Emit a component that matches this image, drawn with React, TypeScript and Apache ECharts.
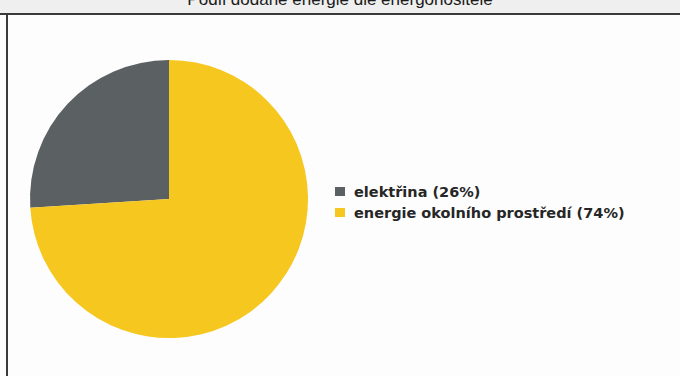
import React, { useEffect, useRef } from "react";
import * as echarts from "echarts";

const categories = ["elektřina (26%)", "energie okolního prostředí (74%)"];
const values = [26, 74];
const colors = ["#5b6062", "#f5c71f"];
const titleText = "Podíl dodané energie dle energonositele";

export default function App() {
  const ref = useRef<HTMLDivElement>(null);
  useEffect(() => {
    if (!ref.current) return;
    const chart = echarts.init(ref.current, null, { renderer: "svg" });
    chart.setOption({
      animation: false,
      backgroundColor: "#fdfdfd",
      graphic: [
        { type: "rect", shape: { x: 0, y: 0, width: 680, height: 13 }, style: { fill: "#efefef" }, z: 0 },
        { type: "line", shape: { x1: 0, y1: 14, x2: 680, y2: 14 }, style: { stroke: "#3a3a3a", lineWidth: 2 }, z: 1 },
        { type: "line", shape: { x1: 7, y1: 14, x2: 7, y2: 376 }, style: { stroke: "#3a3a3a", lineWidth: 2 }, z: 1 },
        {
          type: "text",
          x: 340,
          y: 8,
          style: {
            text: titleText,
            fill: "#1a1a1a",
            font: "17px 'Liberation Sans', Arial, sans-serif",
            textAlign: "center",
            textVerticalAlign: "bottom",
          },
          z: 2,
        },
      ],
      legend: {
        orient: "vertical",
        left: 330,
        top: 179,
        itemWidth: 10,
        itemHeight: 9,
        itemGap: 6,
        icon: "rect",
        textStyle: {
          fontFamily: "DejaVu Sans",
          fontSize: 14.5,
          fontWeight: "bold",
          lineHeight: 15,
          color: "#262626",
          padding: [0, 0, 0, 4],
        },
        data: categories,
      },
      series: [
        {
          type: "pie",
          center: [169, 199],
          radius: 139,
          clockwise: false,
          startAngle: 90,
          label: { show: false },
          labelLine: { show: false },
          emphasis: { disabled: true },
          data: categories.map((name, i) => ({ name, value: values[i], itemStyle: { color: colors[i] } })),
        },
      ],
    });
    return () => chart.dispose();
  }, []);
  return <div ref={ref} style={{ position: "fixed", left: 0, top: 0, width: 680, height: 376 }} />;
}
